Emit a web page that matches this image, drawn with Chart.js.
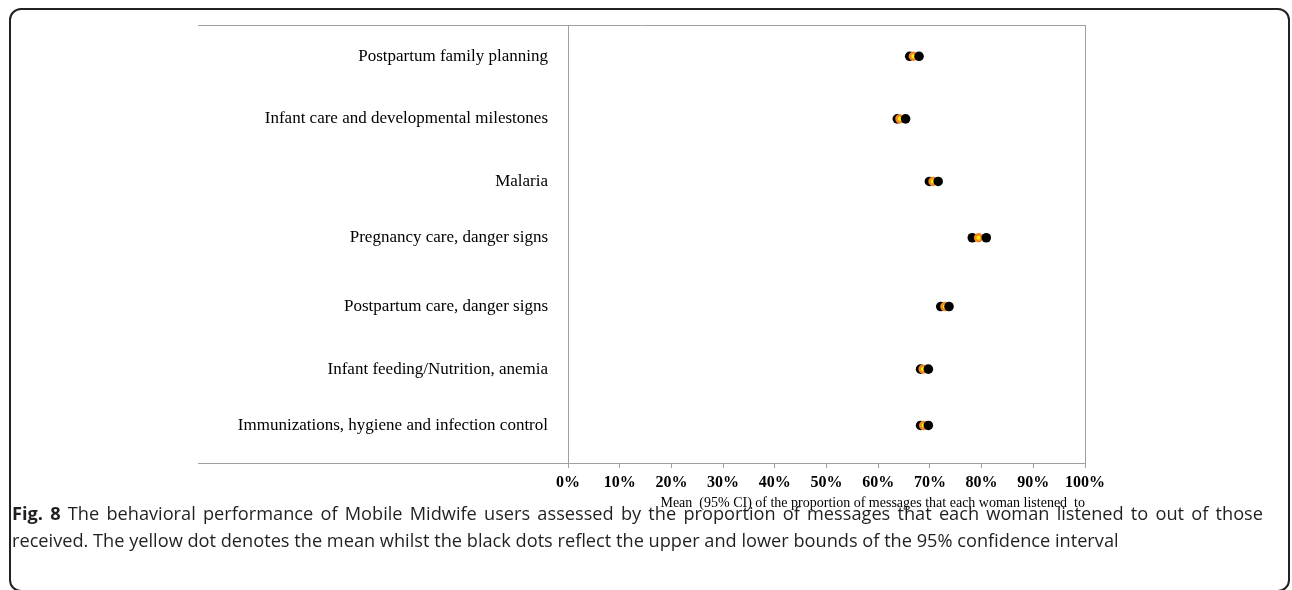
<!DOCTYPE html>
<html>
<head>
<meta charset="utf-8">
<script src="https://cdn.jsdelivr.net/npm/chart.js@4.4.0/dist/chart.umd.min.js"></script>
<style>
    body { margin: 0; width: 1292px; height: 590px; background: #fff; position: relative; overflow: hidden; }
    #frame { position: absolute; left: 9px; top: 8px; width: 1281px; height: 584px; box-sizing: border-box;
             border: 2px solid #222; border-radius: 12px; }
    #chartBox { position: absolute; left: 0; top: 0; width: 1292px; height: 520px; }
    #caption { position: absolute; left: 12px; top: 500px; width: 1251px; font-family: 'Open Sans', 'Noto Sans', sans-serif;
               font-size: 18.2px; line-height: 27px; color: #231f20; text-align: justify; }
    #caption b { font-weight: 700; }
</style>
</head>
<body>
<div id="frame"></div>
<div id="chartBox"><canvas id="dotChart" width="1292" height="520"></canvas></div>
<div id="caption"><b>Fig. 8</b> The behavioral performance of Mobile Midwife users assessed by the proportion of messages that each woman listened to out of those received. The yellow dot denotes the mean whilst the black dots reflect the upper and lower bounds of the 95% confidence interval</div>
<script>
// ===== Data (percent of messages listened to) =====
const categories = [
    'Postpartum family planning',
    'Infant care and developmental milestones',
    'Malaria',
    'Pregnancy care, danger signs',
    'Postpartum care, danger signs',
    'Infant feeding/Nutrition, anemia',
    'Immunizations, hygiene and infection control'
];
// vertical position of each row on the 0-7 value axis
const rowPos = [6.5, 5.5, 4.5, 3.6, 2.5, 1.5, 0.6];
const lowerCI = [66.1, 63.7, 69.9, 78.2, 72.1, 68.2, 68.2];
const meanVal = [66.8, 64.2, 70.6, 79.4, 72.9, 68.7, 68.8];
const upperCI = [67.9, 65.3, 71.6, 80.9, 73.7, 69.7, 69.7];
const xTicks = [0, 10, 20, 30, 40, 50, 60, 70, 80, 90, 100];
const axisTitle = 'Mean  (95% CI) of the proportion of messages that each woman listened  to';

const toPoints = vals => vals.map((v, i) => ({ x: v, y: rowPos[i] }));

// ===== Plot frame (Excel style box, top/bottom lines run under the labels) =====
const frameLines = {
    id: 'frameLines',
    afterDraw(chart) {
        const { ctx, chartArea } = chart;
        const left = chart.scales.y.left;
        ctx.save();
        ctx.strokeStyle = '#a0a0a0';
        ctx.lineWidth = 1;
        ctx.beginPath();
        ctx.moveTo(left, chartArea.top + 0.5);
        ctx.lineTo(chartArea.right, chartArea.top + 0.5);
        ctx.moveTo(chartArea.right + 0.5, chartArea.top);
        ctx.lineTo(chartArea.right + 0.5, chartArea.bottom);
        ctx.moveTo(left, chartArea.bottom + 0.5);
        ctx.lineTo(chartArea.left, chartArea.bottom + 0.5);
        ctx.stroke();
        ctx.restore();
    }
};

const serif = "'Liberation Serif', 'Times New Roman', serif";

const ctx = document.getElementById('dotChart').getContext('2d');
new Chart(ctx, {
    type: 'scatter',
    data: {
        datasets: [
            { label: 'Upper 95% CI', data: toPoints(upperCI), pointRadius: 4.8, pointHoverRadius: 4.8,
              backgroundColor: '#000', borderWidth: 0 },
            { label: 'Mean', data: toPoints(meanVal), pointRadius: 3.4, pointHoverRadius: 3.4,
              backgroundColor: '#ffee00', borderColor: '#f08a24', borderWidth: 2.6 },
            { label: 'Lower 95% CI', data: toPoints(lowerCI), pointRadius: 4.8, pointHoverRadius: 4.8,
              backgroundColor: '#000', borderWidth: 0 }
        ]
    },
    options: {
        responsive: false,
        animation: false,
        layout: { padding: { left: 198, top: 25, right: 207, bottom: 4 } },
        plugins: { legend: { display: false }, tooltip: { enabled: false } },
        scales: {
            x: {
                type: 'linear',
                min: 0,
                max: 100,
                afterBuildTicks: scale => { scale.ticks = xTicks.map(v => ({ value: v })); },
                afterFit: scale => { scale.height = 53; scale.paddingLeft = 0; scale.paddingRight = 0; },
                grid: { drawOnChartArea: false, drawTicks: true, tickLength: 5, color: '#a0a0a0' },
                border: { display: true, color: '#a0a0a0' },
                ticks: {
                    autoSkip: false,
                    maxRotation: 0,
                    padding: 5,
                    color: '#000',
                    font: { family: serif, size: 16, weight: 'bold' },
                    callback: v => v + '%'
                },
                title: {
                    display: true,
                    text: axisTitle,
                    align: 'end',
                    color: '#000',
                    padding: { top: 0, bottom: 4 },
                    font: { family: serif, size: 14 }
                }
            },
            y: {
                type: 'linear',
                min: 0,
                max: 7,
                afterBuildTicks: scale => { scale.ticks = rowPos.map(v => ({ value: v })); },
                afterFit: scale => { scale.width = 370; scale.paddingTop = 0; scale.paddingBottom = 0; },
                grid: { display: false, drawTicks: false },
                border: { display: true, color: '#a0a0a0' },
                ticks: {
                    autoSkip: false,
                    padding: 20,
                    color: '#000',
                    font: { family: serif, size: 17 },
                    callback: v => categories[rowPos.indexOf(v)]
                }
            }
        }
    },
    plugins: [frameLines]
});
</script>
</body>
</html>
